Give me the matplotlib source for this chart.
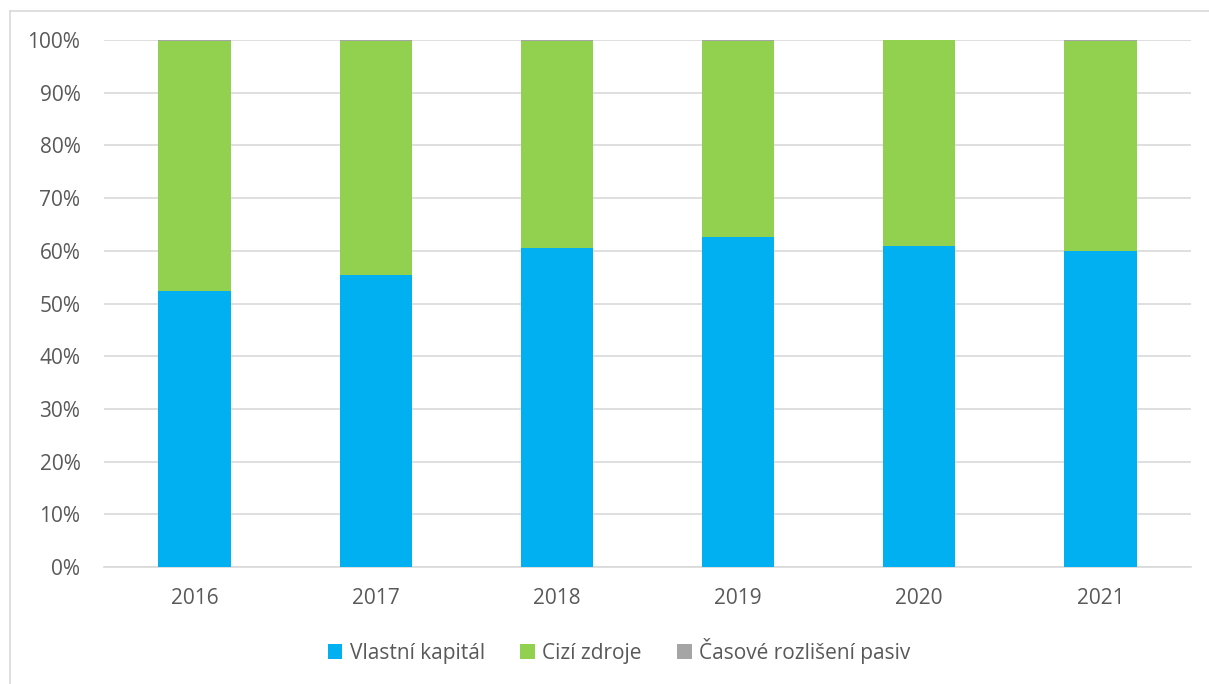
import numpy as np
import matplotlib.pyplot as plt
from matplotlib.lines import Line2D
from matplotlib.ticker import PercentFormatter

years = ['2016', '2017', '2018', '2019', '2020', '2021']
vlastni = [52.4, 55.5, 60.5, 62.7, 61.0, 60.0]
casove = [0.2, 0.2, 0.1, 0.1, 0.05, 0.2]
cizi = [100 - v - c for v, c in zip(vlastni, casove)]

plt.rcParams['font.family'] = ['Open Sans', 'DejaVu Sans']
txt = '#595959'

fig = plt.figure(figsize=(12.09, 6.84), dpi=100)
ax = fig.add_axes([104 / 1209, 1 - 567 / 684, 1087 / 1209, 527 / 684])

x = np.arange(len(years))
w = 0.4
ax.bar(x, vlastni, w, color='#00B0F0', label='Vlastní kapitál', zorder=3)
ax.bar(x, cizi, w, bottom=vlastni, color='#92D050', label='Cizí zdroje', zorder=3)
bottom2 = [v + c for v, c in zip(vlastni, cizi)]
ax.bar(x, casove, w, bottom=bottom2, color='#A5A5A5', label='Časové rozlišení pasiv', zorder=3)

ax.set_xlim(-0.5, len(years) - 0.5)
ax.set_ylim(0, 100)
ax.set_yticks(np.arange(0, 101, 10))
ax.yaxis.set_major_formatter(PercentFormatter(decimals=0))
ax.set_xticks(x)
ax.set_xticklabels(years)
ax.grid(axis='y', color='#D9D9D9', linewidth=1.2, zorder=0)
for s in ['top', 'right', 'left']:
    ax.spines[s].set_visible(False)
ax.spines['bottom'].set_color('#D9D9D9')
ax.spines['bottom'].set_linewidth(1.2)
ax.tick_params(axis='both', length=0, labelsize=15, colors=txt)
ax.tick_params(axis='y', pad=17)
ax.tick_params(axis='x', pad=15)

leg = fig.legend(loc='center', bbox_to_anchor=(619 / 1209, 1 - 651 / 684), ncol=3,
                 frameon=False, fontsize=15, handlelength=0.7, handleheight=0.7,
                 handletextpad=0.35, columnspacing=1.7)
for t in leg.get_texts():
    t.set_color(txt)

# chart frame (left and top edges visible)
fig.add_artist(Line2D([10 / 1209, 10 / 1209], [0, 1 - 11 / 684], transform=fig.transFigure,
                      color='#D9D9D9', linewidth=1.2))
fig.add_artist(Line2D([10 / 1209, 1], [1 - 11 / 684, 1 - 11 / 684], transform=fig.transFigure,
                      color='#D9D9D9', linewidth=1.2))

fig.savefig('out.png', dpi=100)
